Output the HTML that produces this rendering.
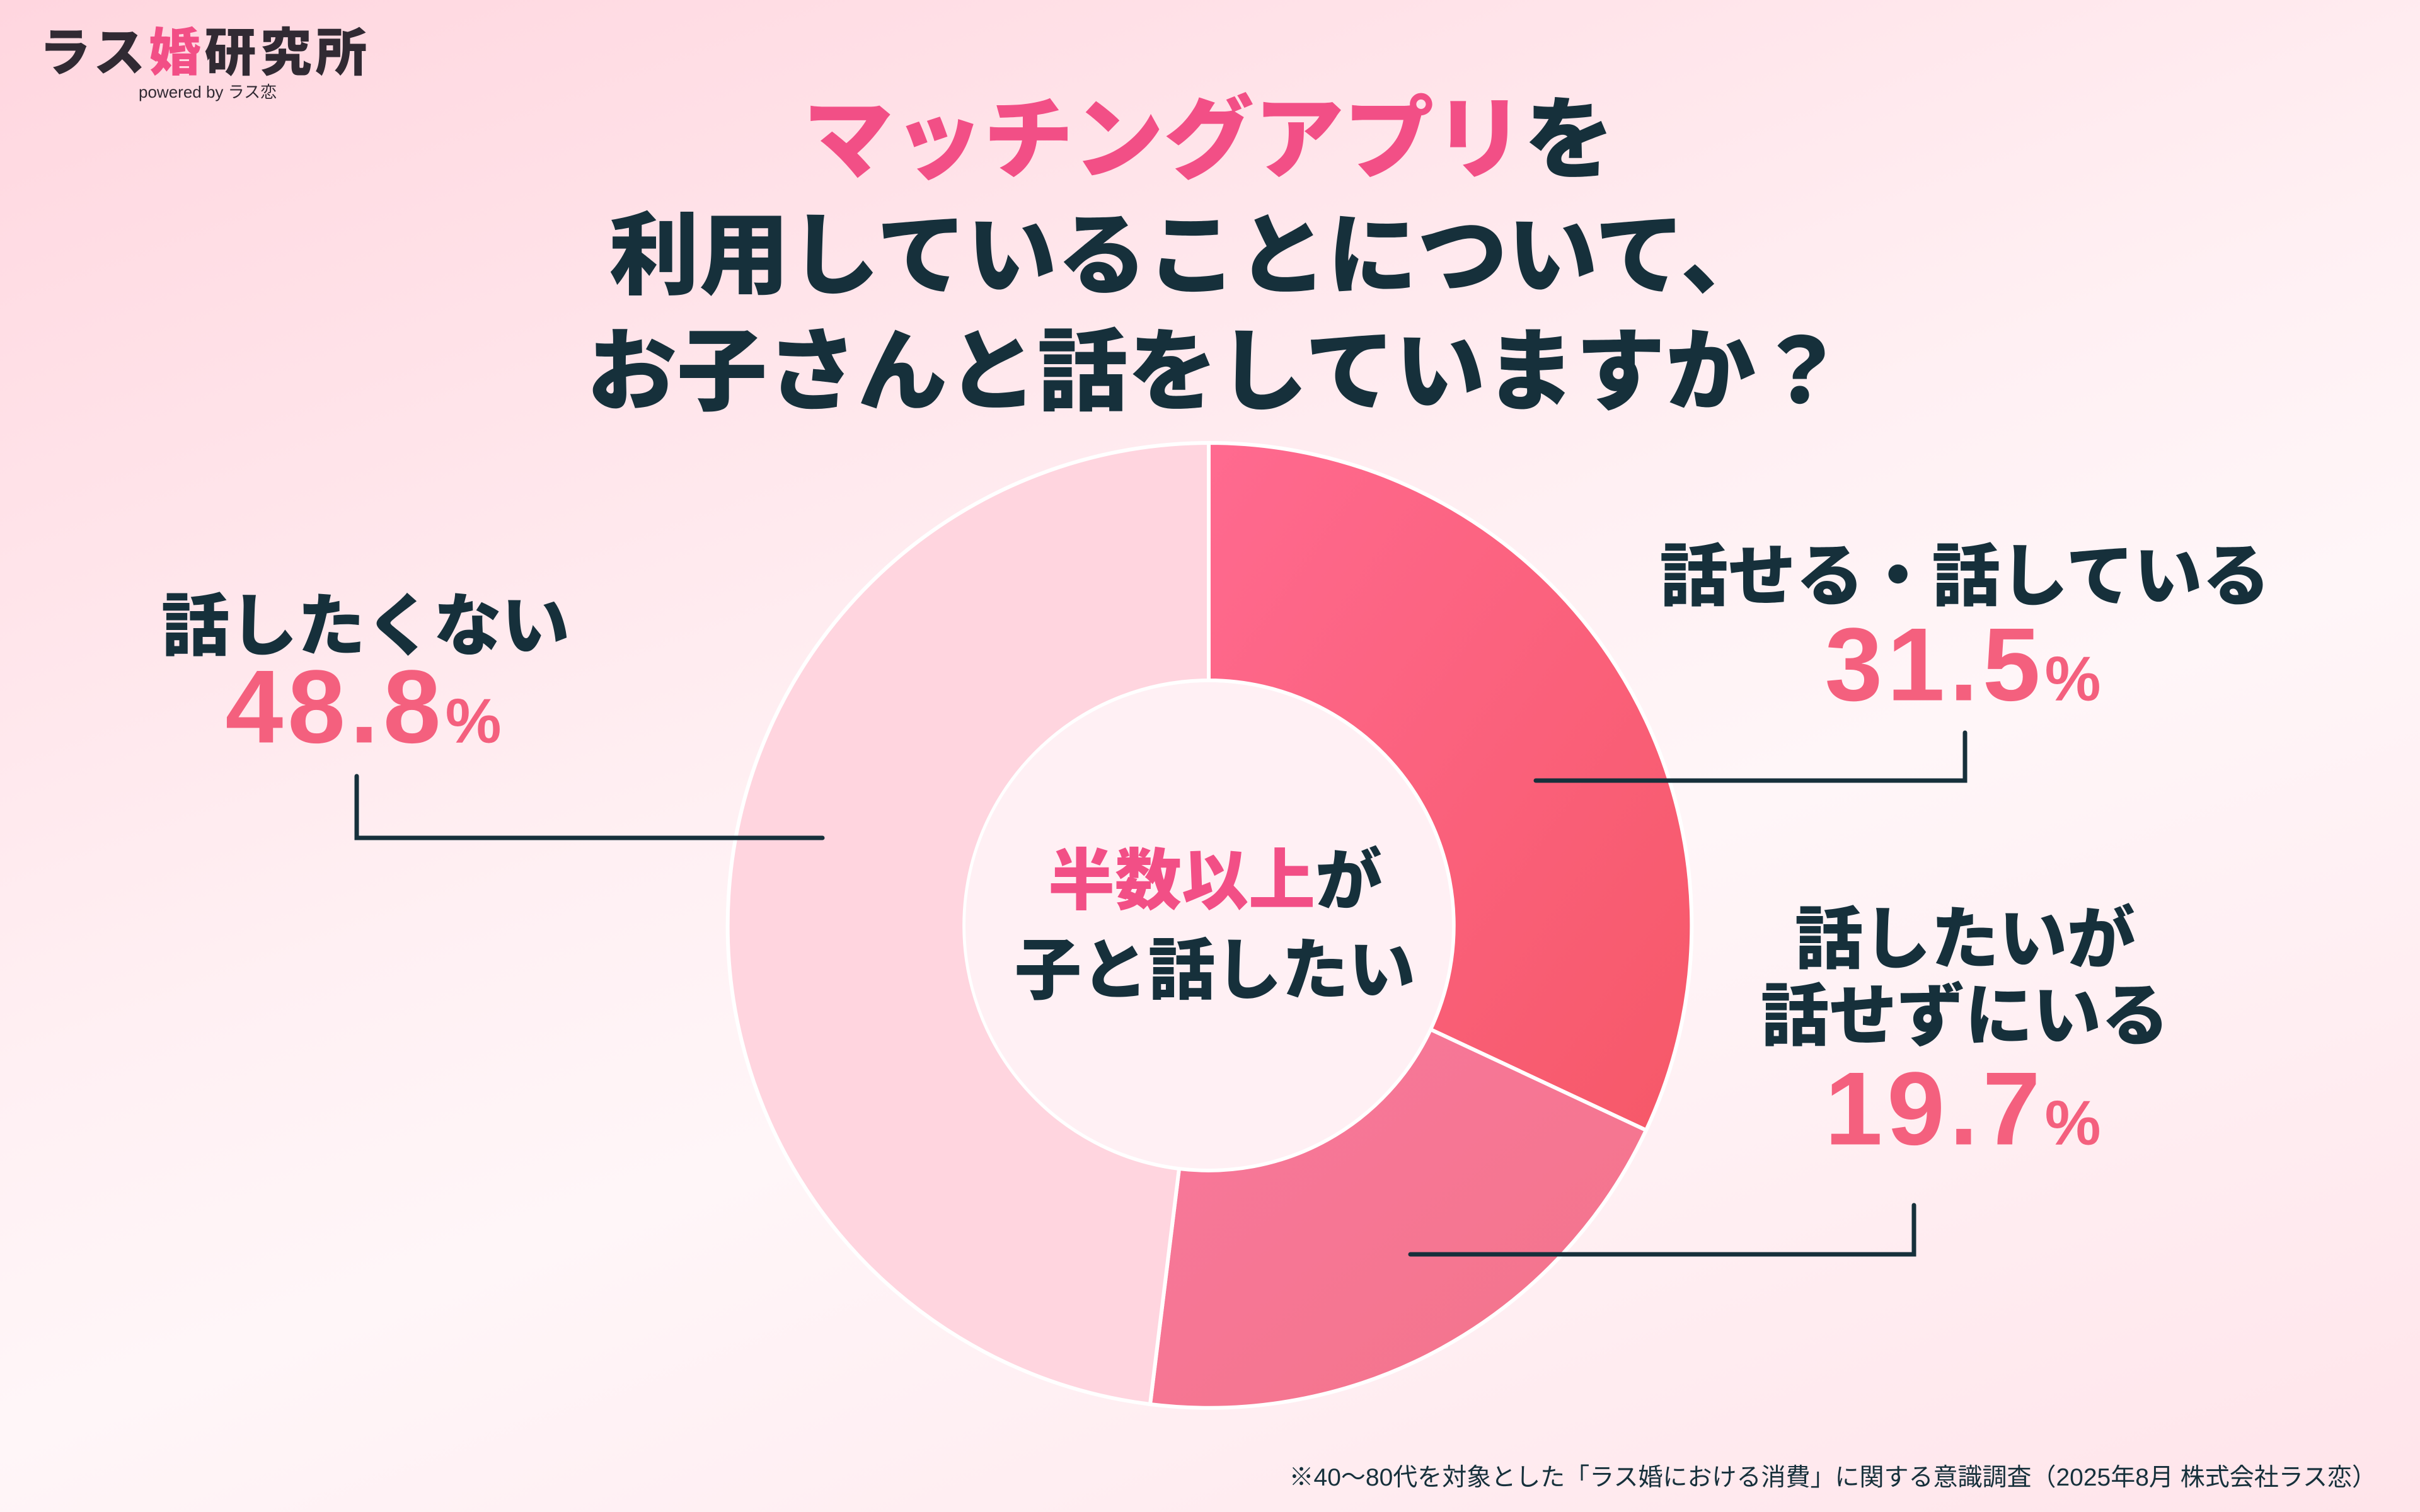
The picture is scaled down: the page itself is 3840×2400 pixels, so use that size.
<!DOCTYPE html>
<html><head><meta charset="utf-8"><style>
html,body{margin:0;padding:0}
body{width:3840px;height:2400px;position:relative;overflow:hidden;
background:linear-gradient(160deg,#ffd6df 0%,#fff0f3 45%,#fff6f8 60%,#ffe4ea 100%);
font-family:"Liberation Sans","Noto Sans CJK JP",sans-serif;color:#16303b}
.t{position:absolute;white-space:nowrap;font-weight:900;transform:translate(-50%,-50%)}
.p{color:#f24f86}
.n{color:#f4607e;font-family:"Liberation Sans",sans-serif;font-weight:700;letter-spacing:7px}
</style></head><body>
<div style="position:absolute;left:62px;top:40px;font-size:82px;font-weight:900;letter-spacing:6px;color:#312a33;line-height:1.1">ラス<span class="p">婚</span>研究所</div>
<div style="position:absolute;left:220px;top:126px;font-size:26px;color:#312a33">powered by ラス恋</div>

<div class="t" style="left:1918px;top:210px;font-size:143px"><span class="p">マッチングアプリ</span>を</div>
<div class="t" style="left:1888px;top:394px;font-size:143px">利用していることについて、</div>
<div class="t" style="left:1930px;top:578px;font-size:143px">お子さんと話をしていますか？</div>

<svg width="3840" height="2400" style="position:absolute;left:0;top:0">
<defs>
<linearGradient id="g1" x1="0" y1="0" x2="1" y2="1"><stop offset="0" stop-color="#ff6a90"/><stop offset="1" stop-color="#f65868"/></linearGradient>
<linearGradient id="g2" x1="0" y1="0" x2="1" y2="1"><stop offset="0" stop-color="#f8789c"/><stop offset="1" stop-color="#f3748a"/></linearGradient>
</defs>
<path d="M1918,703 A766,766 0 0 1 2612,1794 L2270,1634 A389,389 0 0 0 1918,1080 Z" fill="url(#g1)" stroke="#fff" stroke-width="6"/>
<path d="M2612,1794 A766,766 0 0 1 1825,2229 L1871,1855 A389,389 0 0 0 2270,1634 Z" fill="url(#g2)" stroke="#fff" stroke-width="6"/>
<path d="M1825,2229 A766,766 0 0 1 1918,703 L1918,1080 A389,389 0 0 0 1871,1855 Z" fill="#ffd5df" stroke="#fff" stroke-width="6"/>
<circle cx="1918" cy="1469" r="386" fill="#fff0f4"/>
<g stroke="#16303b" stroke-width="7" fill="none" stroke-linecap="round">
<polyline points="2437,1239 3118,1239 3118,1163"/>
<polyline points="2238,1991 3037,1991 3037,1913"/>
<polyline points="1305,1330 566,1330 566,1232"/>
</g>
</svg>

<div class="t" style="left:1928px;top:1389px;font-size:106px"><span class="p">半数以上</span>が</div>
<div class="t" style="left:1928px;top:1531px;font-size:106px">子と話したい</div>

<div class="t" style="left:3118px;top:906px;font-size:108px">話せる・話している</div>
<div class="t n" style="left:3118px;top:1055px;font-size:165px">31.5<span style="font-size:100px">%</span></div>
<div class="t" style="left:3118px;top:1482px;font-size:108px">話したいが</div>
<div class="t" style="left:3118px;top:1604px;font-size:108px">話せずにいる</div>
<div class="t n" style="left:3118px;top:1760px;font-size:165px">19.7<span style="font-size:100px">%</span></div>
<div class="t" style="left:580px;top:985px;font-size:108px">話したくない</div>
<div class="t n" style="left:580px;top:1122px;font-size:165px">48.8<span style="font-size:100px">%</span></div>

<div style="position:absolute;right:69px;top:2314px;font-size:39px;color:#16303b;white-space:nowrap">※40〜80代を対象とした「ラス婚における消費」に関する意識調査（2025年8月 株式会社ラス恋）</div>
</body></html>
